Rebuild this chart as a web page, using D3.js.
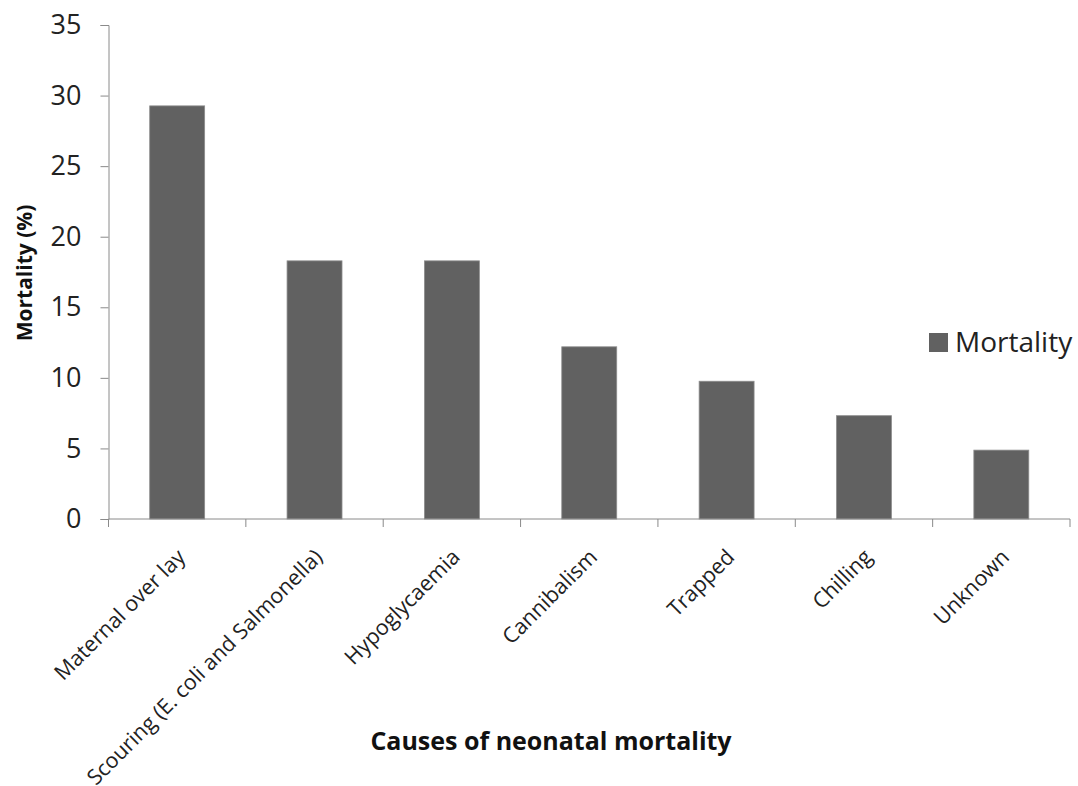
<!DOCTYPE html>
<html>
<head>
<meta charset="utf-8">
<script src="https://cdn.jsdelivr.net/npm/d3@7"></script>
<style>
  body { margin: 0; background: #fff; }
  svg { display: block; }
  svg text { font-family: "Open Sans", Lato, sans-serif; }
  .axis path, .axis line { stroke: #8a8a8a; }
  .axis text { fill: #222; }
</style>
</head>
<body>
<div id="chart"></div>
<script>
// data
var causes = ["Maternal over lay", "Scouring (E. coli and Salmonella)", "Hypoglycaemia",
              "Cannibalism", "Trapped", "Chilling", "Unknown"];
var mortality = [29.27, 18.29, 18.29, 12.2, 9.76, 7.32, 4.88];
var yTicks = [0, 5, 10, 15, 20, 25, 30, 35];
var seriesName = "Mortality";

var width = 1078;
var height = 786;
var plotLeft = 108.5, plotRight = 1070, plotTop = 25, plotBottom = 519;

var svg = d3.select("#chart").append("svg")
    .attr("width", width)
    .attr("height", height);

var x = d3.scaleBand()
    .domain(causes)
    .range([plotLeft, plotRight])
    .paddingInner(0.6)
    .paddingOuter(0.3);

var y = d3.scaleLinear()
    .domain([0, 35])
    .range([plotBottom, plotTop]);

// bars
svg.selectAll("rect.bar")
    .data(causes)
    .enter()
    .append("rect")
    .attr("class", "bar")
    .attr("x", function(d) { return x(d); })
    .attr("y", function(d, i) { return y(mortality[i]); })
    .attr("width", x.bandwidth())
    .attr("height", function(d, i) { return y(0) - y(mortality[i]); })
    .attr("fill", "#616161")
    .attr("stroke", "#8d8d8d")
    .attr("stroke-width", 0.8);

// y axis
var yAxis = svg.append("g")
    .attr("class", "axis")
    .attr("transform", "translate(" + plotLeft + ",0)")
    .call(d3.axisLeft(y).tickValues(yTicks).tickSize(8).tickPadding(19));
yAxis.selectAll("text").style("font-size", "27px");

// x axis, ticks at band edges like Excel
var edges = causes.map(function(d) { return x(d) - x.step() * x.paddingInner() / 2; });
edges.push(plotRight);
var xAxis = svg.append("g")
    .attr("class", "axis")
    .attr("transform", "translate(0," + plotBottom + ")");
xAxis.append("path")
    .attr("d", "M" + plotLeft + ",0H" + plotRight)
    .attr("fill", "none");
xAxis.selectAll("line")
    .data(edges)
    .enter()
    .append("line")
    .attr("x1", function(d) { return d; })
    .attr("x2", function(d) { return d; })
    .attr("y1", 0)
    .attr("y2", 8);

xAxis.selectAll("text")
    .data(causes)
    .enter()
    .append("text")
    .attr("text-anchor", "end")
    .attr("transform", function(d) {
      return "translate(" + (x(d) + x.bandwidth() / 2 + 4) + ",34) rotate(-45)";
    })
    .attr("dy", "0.35em")
    .style("font-size", "21.5px")
    .text(function(d) { return d; });

// axis titles
svg.append("text")
    .attr("transform", "translate(32," + 273 + ") rotate(-90)")
    .attr("text-anchor", "middle")
    .style("font-size", "21px")
    .style("font-weight", "bold")
    .attr("fill", "#111")
    .text("Mortality (%)");

svg.append("text")
    .attr("x", 551)
    .attr("y", 750)
    .attr("text-anchor", "middle")
    .style("font-size", "25px")
    .style("font-weight", "bold")
    .attr("fill", "#111")
    .text("Causes of neonatal mortality");

// legend
var legend = svg.append("g").attr("transform", "translate(929,333)");
legend.append("rect")
    .attr("width", 19)
    .attr("height", 19)
    .attr("fill", "#616161");
legend.append("text")
    .attr("x", 26)
    .attr("y", 19)
    .style("font-size", "28px")
    .attr("fill", "#222")
    .text(seriesName);
</script>
</body>
</html>
